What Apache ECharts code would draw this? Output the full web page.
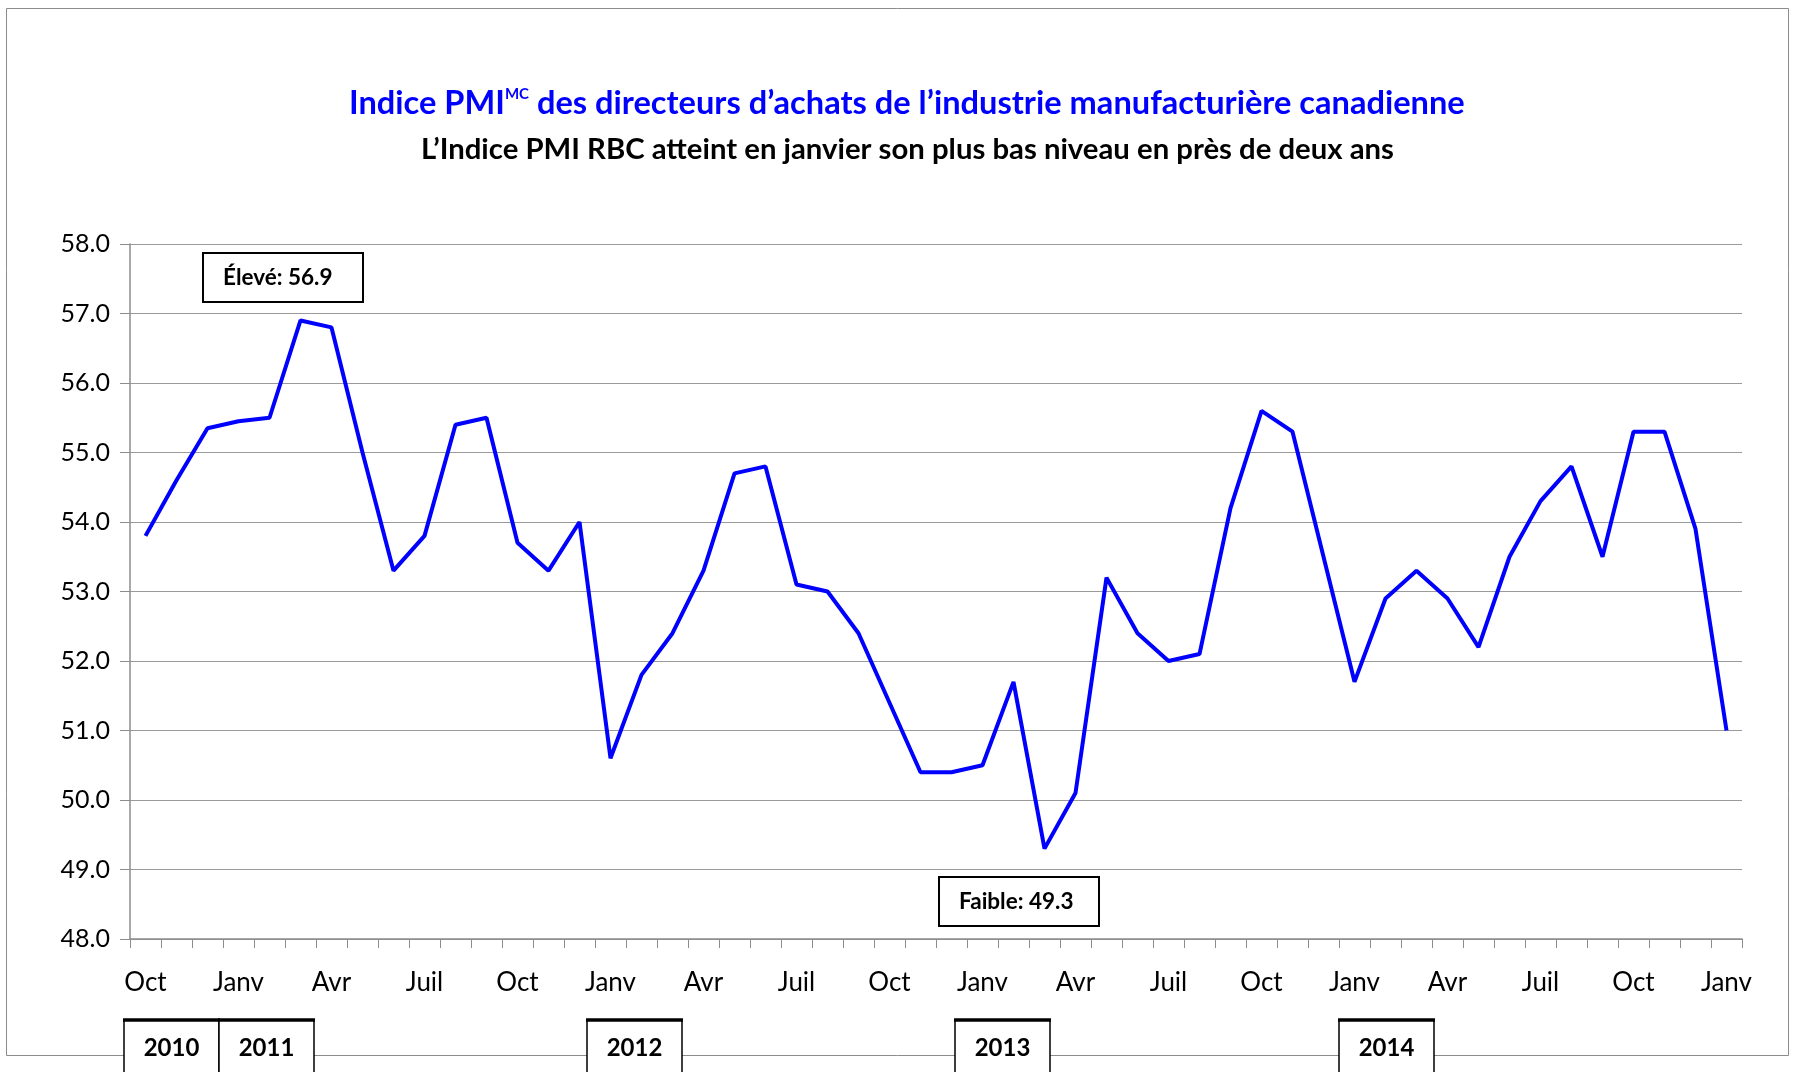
<!DOCTYPE html>
<html>
<head>
<meta charset="utf-8">
<script src="https://cdn.jsdelivr.net/npm/echarts@6/dist/echarts.min.js"></script>
<style>
  html, body { margin: 0; padding: 0; background: #fff; }
  #chart { width: 1796px; height: 1072px; }
</style>
</head>
<body>
<div id="chart"></div>
<script>
// monthly categories, Oct 2010 to Jan 2015
const months = [
  'Oct 2010', 'Nov 2010', 'Déc 2010',
  'Janv 2011', 'Févr 2011', 'Mars 2011', 'Avr 2011', 'Mai 2011', 'Juin 2011',
  'Juil 2011', 'Août 2011', 'Sept 2011', 'Oct 2011', 'Nov 2011', 'Déc 2011',
  'Janv 2012', 'Févr 2012', 'Mars 2012', 'Avr 2012', 'Mai 2012', 'Juin 2012',
  'Juil 2012', 'Août 2012', 'Sept 2012', 'Oct 2012', 'Nov 2012', 'Déc 2012',
  'Janv 2013', 'Févr 2013', 'Mars 2013', 'Avr 2013', 'Mai 2013', 'Juin 2013',
  'Juil 2013', 'Août 2013', 'Sept 2013', 'Oct 2013', 'Nov 2013', 'Déc 2013',
  'Janv 2014', 'Févr 2014', 'Mars 2014', 'Avr 2014', 'Mai 2014', 'Juin 2014',
  'Juil 2014', 'Août 2014', 'Sept 2014', 'Oct 2014', 'Nov 2014', 'Déc 2014',
  'Janv 2015'
];

const pmi = [
  53.8, 54.6, 55.35,
  55.45, 55.5, 56.9, 56.8, 55.0, 53.3, 53.8, 55.4, 55.5, 53.7, 53.3, 54.0,
  50.6, 51.8, 52.4, 53.3, 54.7, 54.8, 53.1, 53.0, 52.4, 51.4, 50.4, 50.4,
  50.5, 51.7, 49.3, 50.1, 53.2, 52.4, 52.0, 52.1, 54.2, 55.6, 55.3, 53.5,
  51.7, 52.9, 53.3, 52.9, 52.2, 53.5, 54.3, 54.8, 53.5, 55.3, 55.3, 53.9,
  51.0
];

// months that get a tick label
const shownMonths = ['Oct', 'Janv', 'Avr', 'Juil'];
const years = ['2010', '2011', '2012', '2013', '2014'];
const highLabel = 'Élevé: 56.9';
const lowLabel = 'Faible: 49.3';

// hand-placed text boxes, like the original
const yearBoxX = [124, 219, 587, 955, 1339];
const yearBoxW = 95;

const FONT = 'Lato';

const graphics = [
  {
    type: 'rect', silent: true, z: -10,
    shape: { x: 6.5, y: 8.5, width: 1782, height: 1047 },
    style: { fill: 'none', stroke: '#8c8c8c', lineWidth: 1 }
  },
  {
    type: 'rect', silent: true,
    shape: { x: 203, y: 253, width: 160, height: 49 },
    style: { fill: '#fff', stroke: '#000', lineWidth: 2 }
  },
  {
    type: 'text', silent: true, x: 223, y: 278,
    style: { text: highLabel, fontFamily: FONT, fontWeight: 'bold', fontSize: 22.5, fill: '#000', align: 'left', verticalAlign: 'middle' }
  },
  {
    type: 'rect', silent: true,
    shape: { x: 939, y: 877, width: 160, height: 49 },
    style: { fill: '#fff', stroke: '#000', lineWidth: 2 }
  },
  {
    type: 'text', silent: true, x: 959, y: 902,
    style: { text: lowLabel, fontFamily: FONT, fontWeight: 'bold', fontSize: 22.5, fill: '#000', align: 'left', verticalAlign: 'middle' }
  }
];

years.forEach((y, i) => {
  const x = yearBoxX[i];
  graphics.push({
    type: 'rect', silent: true,
    shape: { x: x, y: 1020, width: yearBoxW, height: 70 },
    style: { fill: '#fff', stroke: '#000', lineWidth: 1.5 }
  });
  graphics.push({
    type: 'line', silent: true,
    shape: { x1: x - 1, y1: 1020, x2: x + yearBoxW + 1, y2: 1020 },
    style: { stroke: '#000', lineWidth: 3.5 }
  });
  graphics.push({
    type: 'text', silent: true, x: x + yearBoxW / 2, y: 1048,
    style: { text: y, fontFamily: FONT, fontWeight: 'bold', fontSize: 24, fill: '#000', align: 'center', verticalAlign: 'middle' }
  });
});

const chart = echarts.init(document.getElementById('chart'));

chart.setOption({
  animation: false,
  backgroundColor: '#fff',
  title: [
    {
      text: '{m|Indice PMI}{sup|MC}{m| des directeurs d’achats de l’industrie manufacturière canadienne}',
      left: 344,
      top: 82,
      textStyle: {
        rich: {
          m: { fontFamily: FONT, fontWeight: 'bold', fontSize: 32.6, color: '#0000ff' },
          sup: { fontFamily: FONT, fontWeight: 'bold', fontSize: 15, color: '#0000ff', verticalAlign: 'top' }
        }
      }
    },
    {
      text: 'L’Indice PMI RBC atteint en janvier son plus bas niveau en près de deux ans',
      left: 416,
      top: 130,
      textStyle: { fontFamily: FONT, fontWeight: 'bold', fontSize: 29.3, color: '#000' }
    }
  ],
  grid: { left: 130, right: 54, top: 244, bottom: 133, outerBoundsMode: 'none' },
  xAxis: {
    type: 'category',
    data: months,
    boundaryGap: true,
    axisLine: { lineStyle: { color: '#8c8c8c', width: 1.5 } },
    axisTick: { show: true, interval: 0, length: 9, lineStyle: { color: '#8c8c8c' } },
    axisLabel: {
      interval: (i, v) => shownMonths.includes(v.split(' ')[0]),
      formatter: (v) => v.split(' ')[0],
      fontFamily: FONT,
      fontSize: 26,
      color: '#000',
      margin: 31
    },
    splitLine: { show: false }
  },
  yAxis: {
    type: 'value',
    min: 48,
    max: 58,
    interval: 1,
    axisLine: { show: true, lineStyle: { color: '#8c8c8c', width: 1.5 } },
    axisTick: { show: true, length: 10, lineStyle: { color: '#8c8c8c' } },
    axisLabel: {
      formatter: (v) => v.toFixed(1),
      fontFamily: FONT,
      fontSize: 25,
      color: '#000',
      margin: 20
    },
    splitLine: { lineStyle: { color: '#9a9a9a', width: 1.2 } }
  },
  series: [
    {
      name: 'PMI',
      type: 'line',
      data: pmi,
      symbol: 'none',
      lineStyle: { color: '#0000ff', width: 4 },
      itemStyle: { color: '#0000ff' },
      z: 3
    }
  ],
  graphic: graphics
});
</script>
</body>
</html>
